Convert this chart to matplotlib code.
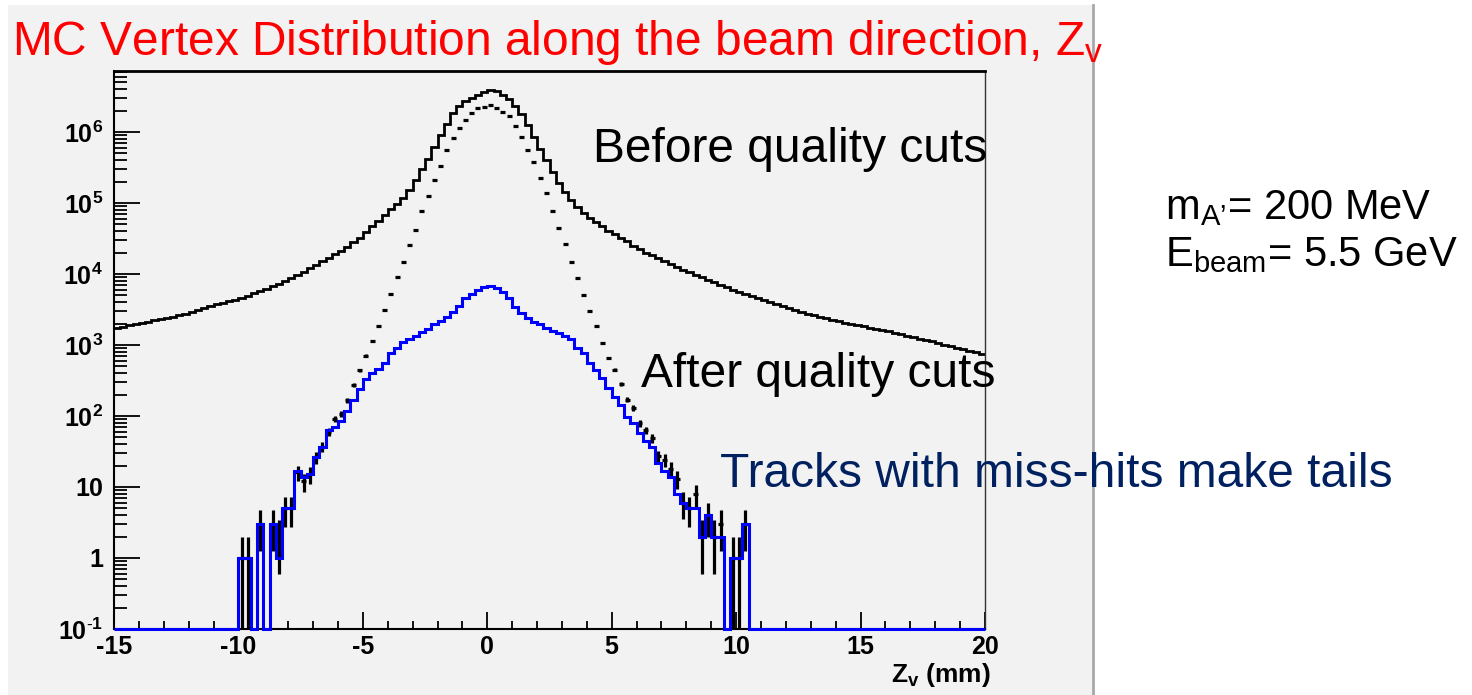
import numpy as np
import matplotlib
matplotlib.use('Agg')
import matplotlib.pyplot as plt
from matplotlib.patches import Rectangle
from matplotlib.lines import Line2D
from matplotlib.ticker import MultipleLocator, LogLocator, NullFormatter

plt.rcParams['font.family'] = ['Liberation Sans', 'DejaVu Sans']
plt.rcParams['mathtext.fontset'] = 'custom'
plt.rcParams['mathtext.rm'] = 'Liberation Sans'
plt.rcParams['mathtext.it'] = 'Liberation Sans:italic'
plt.rcParams['mathtext.bf'] = 'Liberation Sans:bold'
plt.rcParams['axes.unicode_minus'] = False

# Z_v bins, 0.25 mm wide from -15 to 20 mm
bin_edges = np.arange(-15.0, 20.0 + 0.125, 0.25)

# solid black histogram: all vertices, before quality cuts
before_cuts = [
    1730, 1800, 1880, 1950, 2040, 2120, 2210, 2300, 2400, 2510, 2630, 2750,
    2910, 3100, 3300, 3520, 3720, 3930, 4130, 4350, 4620, 4950, 5310, 5690,
    6150, 6700, 7310, 7960, 8770, 9730, 10800, 12000, 13300, 15000, 16800, 18800,
    21300, 24300, 27800, 32400, 38900, 46800, 56200, 67600, 81300, 95500, 117000, 151000,
    209000, 302000, 417000, 603000, 891000, 1290000, 1860000, 2340000,
    2750000, 3020000, 3310000, 3630000, 3890000, 3720000, 3310000, 2880000,
    2340000, 1780000, 1260000, 851000, 575000, 398000, 269000, 191000,
    141000, 110000, 87100, 72400, 61700, 53700, 46800, 40700,
    36300, 32400, 28800, 25100, 22400, 20000, 18200, 16600,
    15100, 13800, 12600, 11500, 10500, 9550, 8910, 8130,
    7590, 7080, 6460, 6030, 5560, 5190, 4840, 4520,
    4230, 3970, 3720, 3500, 3300, 3110, 2940, 2770,
    2620, 2490, 2370, 2240, 2140, 2060, 1980, 1900,
    1820, 1750, 1680, 1620, 1550, 1480, 1410, 1350,
    1290, 1230, 1170, 1120, 1070, 1010, 964, 914, 869, 824, 783, 743,
]

# black points with error bars: after quality cuts
after_cuts = [0] * 20 + [
    1, 1, 0, 3, 0, 3, 2, 5, 5, 16, 12, 15,
    26, 37, 60, 91, 107, 166, 275, 437, 708, 1150, 1860, 3090,
    5250, 9120, 14800, 25700, 41700, 75900, 126000, 209000,
    331000, 562000, 832000, 1150000, 1480000, 1860000, 2140000, 2240000,
    2400000, 2190000, 1910000, 1660000, 1200000, 851000, 562000, 380000,
    224000, 138000, 77600, 44700, 26300, 14800, 8710, 5010,
    3020, 1820, 1070, 661, 447, 282, 170, 129,
    79, 63, 49, 27, 24, 18, 13, 6, 5, 8, 2, 4, 2, 3, 0, 1, 1, 3,
] + [0] * 38

# blue histogram: tracks with miss-hits
miss_hits = [0] * 20 + [
    1, 1, 0, 3, 0, 3, 1, 5, 5, 17, 14, 15,
    26, 37, 63, 71, 85, 118, 170, 240, 330, 398, 457, 550,
    759, 912, 1100, 1200, 1320, 1510, 1660, 1950,
    2140, 2510, 2950, 3550, 4570, 5250, 6030, 6460,
    6760, 6310, 5500, 4570, 3470, 2820, 2400, 2090,
    1950, 1740, 1580, 1450, 1320, 1200, 912, 776,
    562, 447, 347, 245, 186, 141, 98, 79,
    58, 45, 37, 22, 17, 14, 8, 6, 5, 5, 2, 4, 2, 2, 0, 1, 1, 3,
] + [0] * 38

y_ticks = [1e-1, 1, 10, 1e2, 1e3, 1e4, 1e5, 1e6]
y_labels = [r'$\mathbf{10}^{\mathbf{\text{-}1}}$', '1', '10', r'$\mathbf{10^{2}}$',
            r'$\mathbf{10^{3}}$', r'$\mathbf{10^{4}}$', r'$\mathbf{10^{5}}$', r'$\mathbf{10^{6}}$']

W, H = 1472, 695
fig = plt.figure(figsize=(W / 100, H / 100), dpi=100)
fig.patch.set_facecolor('white')

# grey slide panel with its border on the right
fig.add_artist(Rectangle((8 / W, 0), (1092 - 8) / W, (H - 5) / H, transform=fig.transFigure,
                         facecolor='#F2F2F2', edgecolor='none', zorder=0))
fig.add_artist(Line2D([1093 / W, 1093 / W], [0, (H - 5) / H], transform=fig.transFigure,
                      color='#A8A8A8', lw=2, zorder=0.5))

ax = fig.add_axes([114 / W, (H - 629) / H, (985 - 114) / W, (629 - 71) / H])
ax.set_facecolor('#F2F2F2')
ax.set_yscale('log')

before = np.array(before_cuts, float)
after = np.array(after_cuts, float)
blue = np.array(miss_hits, float)
centers = 0.5 * (bin_edges[:-1] + bin_edges[1:])

ax.stairs(before, bin_edges, baseline=None, color='black', lw=2.0, zorder=2)

m = after > 0
err_up = np.sqrt(after[m])
err_lo = after[m] - np.maximum(after[m] - err_up, 0.1)
ax.errorbar(centers[m], after[m], yerr=[err_lo, err_up], xerr=0.1, fmt='none',
            ecolor='black', elinewidth=2.3, capsize=0, zorder=2.2)

ax.stairs(np.where(blue > 0, blue, 0.1), bin_edges, baseline=None, color='#0000FF',
          lw=2.2, zorder=3, clip_on=False)

ax.set_xlim(-15, 20)
ax.set_ylim(0.1, 7.2e6)

ax.set_yticks(y_ticks, labels=y_labels, fontweight='bold')
ax.yaxis.set_minor_locator(LogLocator(base=10, subs=np.arange(2, 10), numticks=20))
ax.yaxis.set_minor_formatter(NullFormatter())
ax.xaxis.set_major_locator(MultipleLocator(5))
ax.xaxis.set_minor_locator(MultipleLocator(1))
for lbl in ax.get_xticklabels():
    lbl.set_fontweight('bold')

ax.tick_params(axis='y', which='major', direction='in', length=19, width=1.3,
               labelsize=18, pad=8, right=False)
ax.tick_params(axis='y', which='minor', direction='in', length=9.5, width=1.3, right=False)
ax.tick_params(axis='x', which='major', direction='in', length=12, width=1.3,
               labelsize=18, pad=4, top=False)
ax.tick_params(axis='x', which='minor', direction='in', length=5.5, width=1.3, top=False)

ax.spines['top'].set_linewidth(2.0)
ax.spines['left'].set_linewidth(1.5)
ax.spines['bottom'].set_linewidth(1.5)
ax.spines['right'].set_linewidth(1.0)
ax.spines['right'].set_color('#333333')


def px(x, y):
    return x / W, 1 - y / H


fig.text(*px(12, 55), r'MC Vertex Distribution along the beam direction, Z$_{\mathrm{v}}$',
         color='#FF0000', fontsize=34.5, va='baseline')
fig.text(*px(593, 162), 'Before quality cuts', color='black', fontsize=34.5, va='baseline')
fig.text(*px(641, 387), 'After quality cuts', color='black', fontsize=34.5, va='baseline')
fig.text(*px(720, 487), 'Tracks with miss-hits make tails', color='#002060',
         fontsize=34.5, va='baseline')
fig.text(*px(1165, 219), r'm$_{\mathrm{A’}}$= 200 MeV', color='black', fontsize=30, va='baseline')
fig.text(*px(1165, 266), r'E$_{\mathrm{beam}}$= 5.5 GeV', color='black', fontsize=30, va='baseline')
fig.text(*px(991, 682), r'Z$_{\mathbf{v}}$ (mm)', color='black', fontsize=19,
         fontweight='bold', ha='right', va='baseline')

fig.savefig('out.png', dpi=100, facecolor=fig.get_facecolor())
